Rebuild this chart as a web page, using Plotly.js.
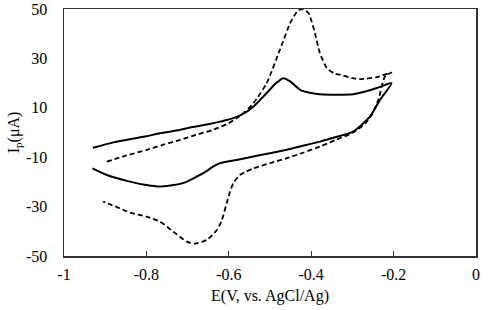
<!DOCTYPE html>
<html>
<head>
<meta charset="utf-8">
<script src="https://cdn.plot.ly/plotly-3.0.1.min.js"></script>
<style>
  html, body { margin: 0; padding: 0; background: #fff; }
  #cv { width: 489px; height: 310px; }
</style>
</head>
<body>
<div id="cv"></div>
<script>
// solid CV loop: forward scan then reverse scan
var solidE = [-0.93, -0.88, -0.84, -0.80, -0.767, -0.72, -0.694, -0.65, -0.621, -0.589, -0.56, -0.54,
  -0.508, -0.485, -0.468, -0.451, -0.427, -0.40, -0.379, -0.34, -0.298, -0.26, -0.241, -0.205,
  -0.233, -0.257, -0.298, -0.34, -0.379, -0.42, -0.459, -0.50, -0.54, -0.581, -0.621, -0.638,
  -0.654, -0.678, -0.70, -0.718, -0.767, -0.80, -0.84, -0.896, -0.931];
var solidI = [-6.2, -4.0, -2.7, -1.5, -0.3, 1.0, 2.0, 3.3, 4.4, 5.8, 8.0, 10.5,
  16.0, 20.0, 22.0, 20.7, 17.3, 16.0, 15.5, 15.3, 15.5, 17.0, 18.0, 20.0,
  13.2, 6.5, 0.4, -1.8, -3.7, -5.4, -7.0, -8.4, -9.7, -11.1, -12.4, -13.8,
  -15.6, -17.9, -19.8, -20.8, -21.9, -21.3, -19.9, -17.2, -14.5];

// dashed CV loop
var dashE = [-0.896, -0.85, -0.799, -0.76, -0.718, -0.68, -0.638, -0.60, -0.581, -0.56, -0.54,
  -0.508, -0.476, -0.451, -0.435, -0.423, -0.407, -0.391, -0.379, -0.362, -0.345, -0.33, -0.30,
  -0.282, -0.241, -0.205,
  -0.221, -0.237, -0.253, -0.27, -0.298, -0.34, -0.379, -0.42, -0.459, -0.50, -0.54, -0.557,
  -0.573, -0.589, -0.597, -0.605, -0.617, -0.629, -0.654, -0.682, -0.702, -0.735, -0.767,
  -0.80, -0.84, -0.87, -0.905];
var dashI = [-11.8, -9.4, -7.0, -5.0, -3.0, -1.0, 1.1, 3.8, 5.8, 8.5, 11.9,
  20.0, 33.5, 44.3, 48.8, 50.0, 48.4, 40.3, 32.2, 26.1, 24.0, 23.4, 22.0,
  21.6, 22.4, 24.3,
  22.7, 13.2, 7.2, 3.5, 0.0, -3.0, -5.7, -8.2, -10.4, -12.4, -14.5, -15.8,
  -17.2, -20.5, -24.0, -28.5, -35.5, -39.5, -43.5, -45.0, -44.2, -40.1, -36.1,
  -34.1, -32.4, -30.3, -28.0];

var xTickVals = [-1, -0.8, -0.6, -0.4, -0.2, 0];
var xTickText = ['-1', '-0.8', '-0.6', '-0.4', '-0.2', '0'];
var yTickVals = [-50, -30, -10, 10, 30, 50];
var yTickText = ['-50', '-30', '-10', '10', '30', '50'];

var font = 'Liberation Serif, Times New Roman, serif';

var data = [
  {
    x: solidE, y: solidI, mode: 'lines', type: 'scatter',
    line: { color: '#000', width: 2, shape: 'spline', smoothing: 0.6 },
    hoverinfo: 'skip'
  },
  {
    x: dashE, y: dashI, mode: 'lines', type: 'scatter',
    line: { color: '#000', width: 1.8, dash: '5px,3px', shape: 'spline', smoothing: 0.6 },
    hoverinfo: 'skip'
  }
];

var layout = {
  width: 489,
  height: 310,
  margin: { l: 64, r: 13, t: 9, b: 54 },
  showlegend: false,
  paper_bgcolor: '#fff',
  plot_bgcolor: '#fff',
  font: { family: font, size: 16, color: '#000' },
  xaxis: {
    range: [-1, 0],
    tickvals: xTickVals,
    ticktext: xTickText,
    ticks: 'inside',
    ticklen: 5,
    tickwidth: 1,
    tickcolor: '#333',
    ticklabelstandoff: 3,
    showgrid: false,
    zeroline: false,
    showline: true,
    linecolor: '#333',
    linewidth: 1.5,
    mirror: true,
    title: { text: 'E(V, vs. AgCl/Ag)', font: { family: font, size: 16 }, standoff: 8 }
  },
  yaxis: {
    range: [-50, 50],
    tickvals: yTickVals,
    ticktext: yTickText,
    ticks: '',
    ticklabelstandoff: 12,
    showgrid: false,
    zeroline: false,
    showline: true,
    linecolor: '#333',
    linewidth: 1.5,
    mirror: true,
    title: { text: 'I<sub>p</sub>(μA)', font: { family: font, size: 16 }, standoff: 2 }
  }
};

Plotly.newPlot('cv', data, layout, { staticPlot: true, displayModeBar: false });
</script>
</body>
</html>
